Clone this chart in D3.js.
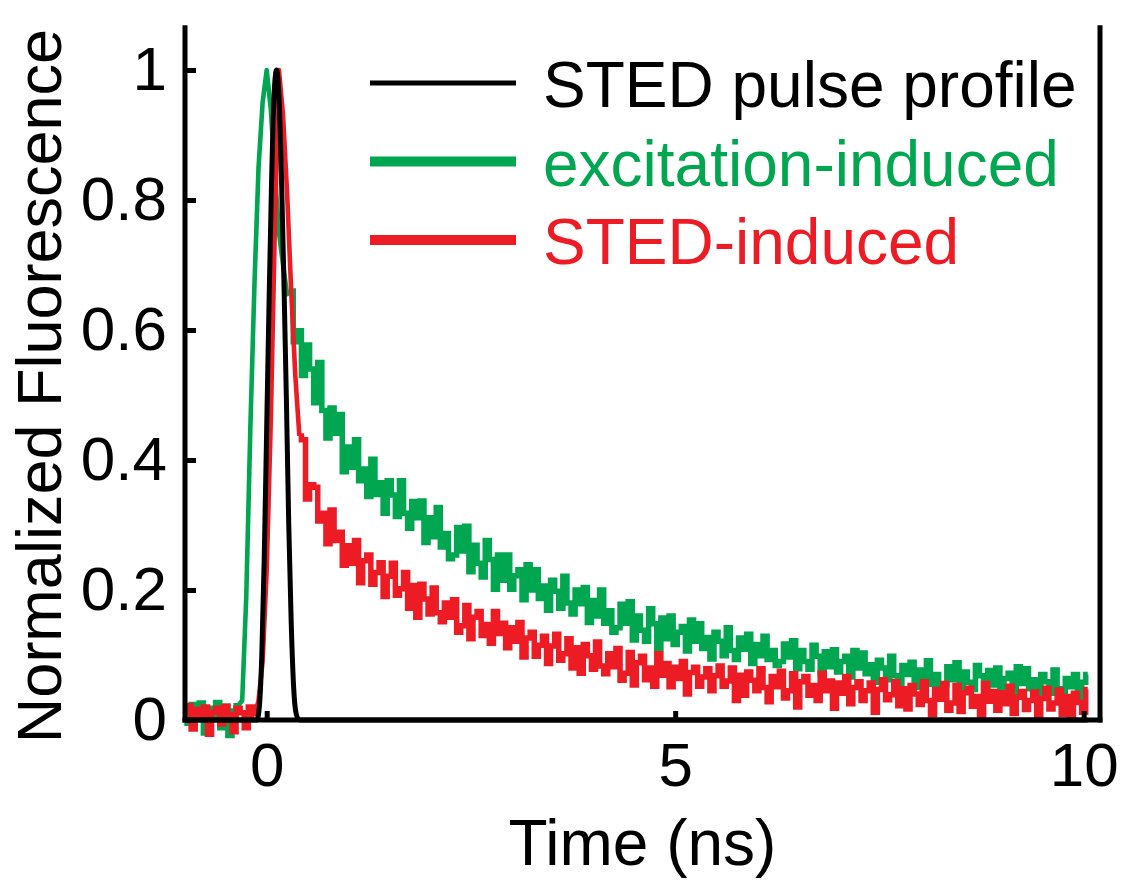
<!DOCTYPE html>
<html lang="en">
<head>
<meta charset="UTF-8">
<title>Normalized fluorescence decay</title>
<script src="https://cdn.jsdelivr.net/npm/d3@7"></script>
<style>
  body { margin: 0; background: #fff; }
  text { font-family: "Liberation Sans", Arial, sans-serif; }
</style>
</head>
<body>
<script>
// sampling grid of the two fluorescence traces (ns)
const timeStart = -1.0, timeStep = 0.05;

// excitation-induced trace, t = -1.00 ... 10.05
const greenValues = [
  0.015, -0.005, 0.024, 0.008, 0.026, -0.02, 0.018, 0.004, 0.027, -0.012, 0.021, -0.024, 0.014, 0.022,
  0.03, 0.19, 0.45, 0.67, 0.85, 0.95, 1.0, 0.94, 0.84, 0.75, 0.70, 0.655,
  .660,.582,.599,.530,.577,.540,.488,.550,.476,.434,
  .480,.441,.470,.382,.420,.389,.431,.368,.386,.344,
  .401,.347,.365,.318,.368,.346,.313,.368,.318,.295,
  .336,.311,.337,.273,.311,.282,.327,.266,.287,.248,
  .254,.296,.260,.298,.228,.269,.241,.220,.276,.247,
  .201,.254,.215,.254,.201,.222,.231,.185,.239,.200,
  .231,.187,.206,.169,.215,.198,.172,.221,.180,.163,
  .200,.179,.204,.150,.184,.160,.200,.149,.168,.135,
  .142,.178,.149,.182,.123,.160,.138,.121,.171,.148,
  .110,.157,.125,.160,.116,.135,.144,.106,.154,.121,
  .148,.110,.127,.094,.135,.121,.099,.142,.107,.093,
  .126,.109,.132,.087,.116,.099,.129,.093,.107,.084,
  .090,.117,.097,.122,.079,.107,.090,.078,.115,.098,
  .071,.105,.082,.108,.074,.090,.098,.066,.107,.080,
  .103,.071,.085,.058,.092,.080,.062,.098,.068,.056,
  .084,.070,.089,.050,.077,.061,.091,.055,.070,.048,
  .054,.082,.062,.088,.046,.074,.058,.047,.084,.068,
  .042,.076,.054,.080,.047,.064,.072,.041,.082,.056,
  .079,.048,.062,.036,.070,.059,.041,.077,.048,.036,
  .064,.051,.070,.032,.058,.070
];

// STED-induced trace, same grid
const redValues = [
  0.01, 0.022, -0.014, 0.016, 0.004, 0.02, -0.022, 0.012, 0.018, -0.006, 0.021, 0.008, -0.018, 0.018, 0.011, -0.012, 0.02, 0.006,
  0.03, 0.09, 0.23, 0.46, 0.76, 1.0, 0.93, 0.81, 0.66, 0.53,
  .437,.431,.340,.362,.358,.306,.318,.271,.323,.276,
  .289,.238,.268,.241,.276,.211,.245,.254,.209,.227,
  .242,.190,.221,.241,.192,.202,.227,.172,.207,.158,
  .209,.186,.163,.203,.165,.151,.180,.158,.185,.135,
  .145,.176,.125,.158,.167,.130,.147,.118,.167,.133,
  .149,.111,.142,.121,.150,.097,.126,.135,.098,.115,
  .129,.087,.114,.132,.092,.102,.125,.080,.111,.072,
  .116,.099,.078,.120,.083,.071,.102,.082,.110,.061,
  .072,.104,.054,.088,.098,.062,.080,.052,.102,.069,
  .087,.051,.081,.064,.090,.040,.073,.081,.052,.066,
  .079,.045,.068,.083,.052,.060,.080,.030,.069,.038,
  .074,.061,.045,.079,.050,.028,.067,.051,.075,.034,
  .045,.071,.020,.059,.067,.038,.053,.030,.072,.045,
  .060,.018,.057,.041,.067,.025,.050,.059,.030,.045,
  .057,.012,.047,.062,.031,.039,.059,.022,.048,.017,
  .053,.040,.024,.059,.030,.008,.047,.032,.056,.015,
  .026,.053,.013,.042,.049,.021,.036,.004,.056,.029,
  .044,.015,.042,.025,.052,.010,.035,.044,.016,.030,
  .043,.002,.033,.049,.017,.026,.046,.009,.036,.004,
  .041,.027,.012,.047
];

// STED pulse profile
const pulseTimes  = [-1, -0.12, -0.09, -0.06, -0.03, 0, 0.03, 0.06, 0.09, 0.12, 0.15, 0.18, 0.21, 0.24, 0.27, 0.30, 0.33, 0.36, 0.40, 10.05];
const pulseValues = [0, 0, 0.02, 0.1, 0.25, 0.45, 0.65, 0.83, 0.96, 1.0, 0.96, 0.84, 0.68, 0.5, 0.3, 0.15, 0.05, 0.01, 0, 0];

const xTicks = [0, 5, 10];
const yTicks = [0, 0.2, 0.4, 0.6, 0.8, 1];
const legendLabels = ["STED pulse profile", "excitation-induced", "STED-induced"];
const legendColors = ["#000000", "#00A650", "#ED1C24"];

const width = 1125, height = 881;
const svg = d3.select("body").append("svg")
    .attr("width", width)
    .attr("height", height);

svg.append("rect").attr("width", width).attr("height", height).attr("fill", "#fff");

const x = d3.scaleLinear().domain([-1, 10.2]).range([185, 1100]);
const y = d3.scaleLinear().domain([0, 1]).range([720, 70]);
const yTop = y(1.065);

const toPoints = vals => vals.map((v, i) => [timeStart + i * timeStep, v]);

// noisy parts drawn as steps so the noise fills a band, the fast rise as a plain line
const stepLine = d3.line().x(d => x(d[0])).y(d => y(d[1])).curve(d3.curveStep);
const plainLine = d3.line().x(d => x(d[0])).y(d => y(d[1]));

function drawTrace(vals, color, riseFrom, riseTo) {
  const pts = toPoints(vals);
  const eps = 1e-6;
  const before = pts.filter(p => p[0] <= riseFrom + eps);
  const rise = pts.filter(p => p[0] >= riseFrom - eps && p[0] <= riseTo + eps);
  const after = pts.filter(p => p[0] >= riseTo - eps);
  const g = svg.append("g").attr("fill", "none").attr("stroke", color);
  g.append("path").attr("d", stepLine(before)).attr("stroke-width", 5.5);
  g.append("path").attr("d", plainLine(rise)).attr("stroke-width", 4.6).attr("stroke-linejoin", "round");
  g.append("path").attr("d", stepLine(after)).attr("stroke-width", 5.5);
}

drawTrace(greenValues, legendColors[1], -0.35, 0.3);
drawTrace(redValues, legendColors[2], -0.15, 0.4);

svg.append("path")
    .attr("d", d3.line().x(d => x(d[0])).y(d => y(d[1])).curve(d3.curveMonotoneX)(pulseTimes.map((t, i) => [t, pulseValues[i]])))
    .attr("fill", "none")
    .attr("stroke", legendColors[0])
    .attr("stroke-width", 5);

// axes
const yAxis = svg.append("g")
    .attr("transform", `translate(${x.range()[0]},0)`)
    .call(d3.axisLeft(y).tickValues(yTicks).tickFormat(d3.format("")).tickSize(-11).tickPadding(18));
const xAxis = svg.append("g")
    .attr("transform", `translate(0,${y(0)})`)
    .call(d3.axisBottom(x).tickValues(xTicks).tickSize(-9).tickPadding(22));

[yAxis, xAxis].forEach(g => {
  g.select(".domain").remove();
  g.selectAll(".tick line").attr("stroke", "#000").attr("stroke-width", 5);
  g.selectAll(".tick text").attr("font-size", 62).attr("fill", "#000")
      .style("font-family", '"Liberation Sans", Arial, sans-serif');
});

const frame = svg.append("g").attr("stroke", "#000").attr("stroke-width", 5).attr("stroke-linecap", "square");
frame.append("line").attr("x1", x.range()[0]).attr("x2", x.range()[0]).attr("y1", yTop).attr("y2", y(0));
frame.append("line").attr("x1", x.range()[1]).attr("x2", x.range()[1]).attr("y1", yTop).attr("y2", y(0));
frame.append("line").attr("x1", x.range()[0]).attr("x2", x.range()[1]).attr("y1", y(0)).attr("y2", y(0));

// axis titles
svg.append("text")
    .attr("x", (x.range()[0] + x.range()[1]) / 2)
    .attr("y", 865)
    .attr("text-anchor", "middle")
    .attr("font-size", 64)
    .text("Time (ns)");

svg.append("text")
    .attr("transform", "translate(61,386) rotate(-90)")
    .attr("text-anchor", "middle")
    .attr("font-size", 63)
    .text("Normalized Fluorescence");

// legend
const legend = svg.append("g");
legendLabels.forEach((label, i) => {
  const ly = 83 + i * 78.5;
  legend.append("line")
      .attr("x1", 370).attr("x2", 516)
      .attr("y1", ly).attr("y2", ly)
      .attr("stroke", legendColors[i])
      .attr("stroke-width", i === 0 ? 5 : 10);
  legend.append("text")
      .attr("x", 543)
      .attr("y", ly + 24)
      .attr("font-size", 64)
      .attr("fill", legendColors[i])
      .text(label);
});
</script>
</body>
</html>
